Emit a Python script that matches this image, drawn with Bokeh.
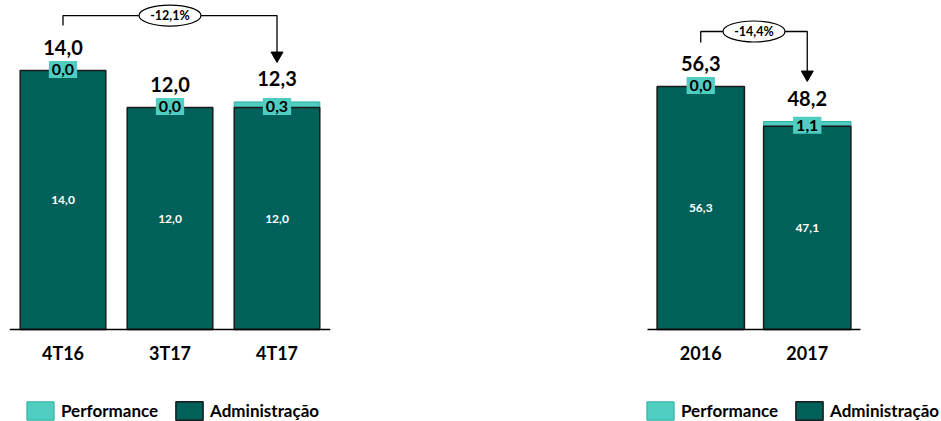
from bokeh.plotting import figure
from bokeh.models import ColumnDataSource, FactorRange, Range1d, Legend, LegendItem, Spacer
from bokeh.layouts import row
from bokeh.embed import file_html
from bokeh.resources import INLINE
from bokeh.core.properties import value

# ---- data ----
q_cats = ["4T16", "3T17", "4T17"]
q_admin = [14.0, 12.0, 12.0]
q_perf = [0.0, 0.0, 0.3]

y_cats = ["2016", "2017"]
y_admin = [56.3, 47.1]
y_perf = [0.0, 1.1]

legend_labels = ["Performance", "Administração"]

DARK = "#00615A"
LIGHT = "#4ECDC0"
FONT = "Lato"


def fmt(v):
    return f"{v:.1f}".replace(".", ",")


def make_chart(cats, admin, perf, y_start, y_end, width, b_left, b_right, pad,
               bar_w, legend_x, i0, i1, leg_bot, top_y, arrow_y, ell_x):
    total = [round(a + p, 1) for a, p in zip(admin, perf)]
    src = ColumnDataSource(dict(
        cat=cats, admin=admin, perf=perf, total=total,
        mid=[a / 2 for a in admin],
        total_lbl=[fmt(t) for t in total],
        admin_lbl=[fmt(a) for a in admin],
        perf_lbl=[fmt(p) for p in perf],
    ))
    p = figure(x_range=FactorRange(factors=cats, range_padding=pad,
                                   range_padding_units="absolute"),
               y_range=Range1d(y_start, y_end),
               width=width, height=421,
               min_border_left=b_left, min_border_right=b_right,
               min_border_top=0, min_border_bottom=0,
               x_axis_location=None, y_axis_location=None,
               toolbar_location=None, output_backend="svg",
               outline_line_color=None)
    p.xgrid.grid_line_color = None
    p.ygrid.grid_line_color = None
    p.background_fill_color = "white"

    r_perf = p.vbar(x="cat", bottom="admin", top="total", width=bar_w, source=src,
                    fill_color=LIGHT, line_color="#2FAE9E", line_width=1)
    r_admin = p.vbar(x="cat", bottom=0, top="admin", width=bar_w, source=src,
                     fill_color=DARK, line_color="#1A1A1A", line_width=1.5)

    # category baseline and labels
    p.segment(x0=[0], y0=[0], x1=[len(cats)], y1=[0], line_color="black", line_width=1.3)
    p.text(x=cats, y=[0] * len(cats), text=cats, text_color="black",
           text_font=value(FONT), text_font_style="bold", text_font_size="18px",
           text_align="center", text_baseline="middle", y_offset=23)

    # inner admin labels
    p.text(x="cat", y="mid", text="admin_lbl", source=src, text_color="white",
           text_font=value(FONT), text_font_style="bold", text_font_size="12px",
           text_align="center", text_baseline="middle")
    # performance labels with boxes
    p.text(x="cat", y="admin", text="perf_lbl", source=src, text_color="black",
           text_font=value(FONT), text_font_style="bold", text_font_size="16px",
           text_align="center", text_baseline="middle", y_offset=-1,
           background_fill_color=LIGHT, padding=3)
    # total labels
    p.text(x="cat", y="total", text="total_lbl", source=src, text_color="black",
           text_font=value(FONT), text_font_style="bold", text_font_size="20px",
           text_align="center", text_baseline="middle", y_offset=-23)

    # bracket with arrow and variation
    pct = (total[i1] / total[i0] - 1) * 100
    pct_lbl = f"{pct:.1f}".replace(".", ",") + "%"
    p.line(x=[cats[i0], cats[i0], cats[i1], cats[i1]],
           y=[leg_bot, top_y, top_y, arrow_y], line_color="black", line_width=1.3)
    p.scatter(x=[cats[i1]], y=[arrow_y], marker="inverted_triangle", size=12,
              fill_color="black", line_color="black")
    p.ellipse(x=[ell_x], y=[top_y], width=62, height=21, width_units="screen",
              height_units="screen", fill_color="white", line_color="black", line_width=1.2)
    p.text(x=[ell_x], y=[top_y], text=[pct_lbl], text_color="black",
           text_font=value(FONT), text_font_style="bold", text_font_size="12.5px",
           text_align="center", text_baseline="middle")

    legend = Legend(items=[LegendItem(label=legend_labels[0], renderers=[r_perf]),
                           LegendItem(label=legend_labels[1], renderers=[r_admin])],
                    orientation="horizontal", location=(legend_x, -1),
                    glyph_width=34, glyph_height=23, label_standoff=4, spacing=14,
                    padding=0, margin=0, border_line_color=None,
                    background_fill_alpha=0,
                    label_text_font=FONT, label_text_font_style="bold",
                    label_text_font_size="17px", label_text_color="black")
    p.add_layout(legend)
    return p


# left: frame x 9..330 ; right: frame 567..940 with 80px padding each side
p1 = make_chart(q_cats, q_admin, q_perf, -92 / 18.5, 329 / 18.5, 340, 9, 10, 0,
                0.80, 14, 0, 2, 16.43, 16.97, 14.81, 1.5)
p2 = make_chart(y_cats, y_admin, y_perf, -92 / 4.316, 329 / 4.316, 373, 0, 0, 80 / 106.5,
                0.82, 76, 0, 1, 66.5, 69.05, 59.08, 1.0)

layout = row(p1, Spacer(width=227, height=421), p2)

open("out.html", "w").write(file_html(layout, INLINE))
